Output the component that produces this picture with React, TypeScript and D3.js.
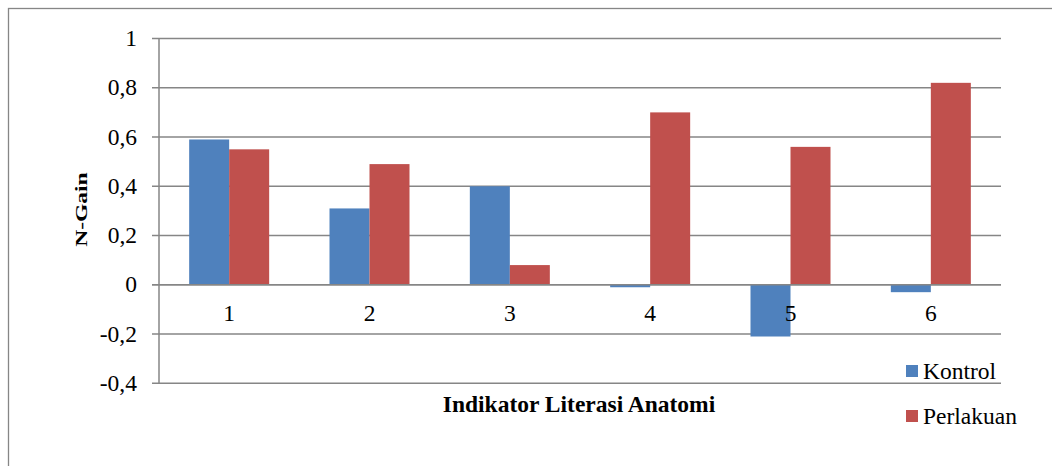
import React from 'react';
import * as d3 from 'd3';

const categories = ['1', '2', '3', '4', '5', '6'];
const kontrol = [0.59, 0.31, 0.4, -0.01, -0.21, -0.03];
const perlakuan = [0.55, 0.49, 0.08, 0.7, 0.56, 0.82];
const yTicks = [-0.4, -0.2, 0, 0.2, 0.4, 0.6, 0.8, 1];
const seriesNames = ['Kontrol', 'Perlakuan'];
const seriesColors = ['#4F81BD', '#C0504D'];

const width = 1052;
const height = 466;
const font = "'Liberation Serif'";
const gridColor = '#868686';
const fs = 23.5;

const left = 159;
const right = 1001;
const top = 38.5;
const bottom = 383.3;
const barW = 40;

const App: React.FC = () => {
  const x = d3.scaleBand().domain(categories).range([left, right]);
  const y = d3.scaleLinear().domain([-0.4, 1]).range([bottom, top]);
  const series = [kontrol, perlakuan];

  return (
    <svg width={width} height={height}
      style={{ position: 'absolute', left: 0, top: 0, background: '#fff' }}>
      {/* outer chart border */}
      <rect x={8.5} y={8.5} width={width + 10} height={height + 10}
        fill="none" stroke={gridColor} strokeWidth={1.3} />

      {/* grid lines */}
      {yTicks.map(t => (
        <line key={t} x1={left - 7} x2={right} y1={y(t)} y2={y(t)}
          stroke={gridColor} strokeWidth={1.5} />
      ))}

      {/* y tick labels */}
      {yTicks.map(t => (
        <text key={t} x={left - 22} y={y(t) + 7.7} textAnchor="end"
          fontSize={fs} style={{ fontFamily: font }}>
          {String(t).replace('.', ',')}
        </text>
      ))}

      {/* bars */}
      {series.map((vals, si) => (
        <g key={si}>
          {vals.map((v, i) => (
            <rect key={i}
              x={(x(categories[i]) as number) + x.bandwidth() / 2 - barW + si * barW}
              y={y(Math.max(0, v))}
              width={barW}
              height={Math.abs(y(v) - y(0))}
              fill={seriesColors[si]} />
          ))}
        </g>
      ))}

      {/* zero line and vertical axis */}
      <line x1={left - 7} x2={right} y1={y(0)} y2={y(0)} stroke={gridColor} strokeWidth={1.5} />
      <line x1={left} x2={left} y1={top} y2={bottom} stroke={gridColor} strokeWidth={1.5} />

      {/* category labels */}
      {categories.map(c => (
        <text key={c} x={(x(c) as number) + x.bandwidth() / 2} y={y(0) + 36.4}
          textAnchor="middle" fontSize={fs} style={{ fontFamily: font }}>
          {c}
        </text>
      ))}

      {/* axis titles */}
      <text transform="translate(87,209.5) rotate(-90) scale(1,0.68)"
        textAnchor="middle" fontSize={fs} fontWeight="bold" style={{ fontFamily: font }}>
        N-Gain
      </text>
      <text x={579} y={412} textAnchor="middle" fontSize={fs} fontWeight="bold"
        style={{ fontFamily: font }}>
        Indikator Literasi Anatomi
      </text>

      {/* legend */}
      {seriesNames.map((n, i) => (
        <g key={n} transform={`translate(906,${365 + i * 45})`}>
          <rect width={12} height={12} fill={seriesColors[i]} />
          <text x={17} y={14} fontSize={fs} style={{ fontFamily: font }}>{n}</text>
        </g>
      ))}
    </svg>
  );
};

export default App;
